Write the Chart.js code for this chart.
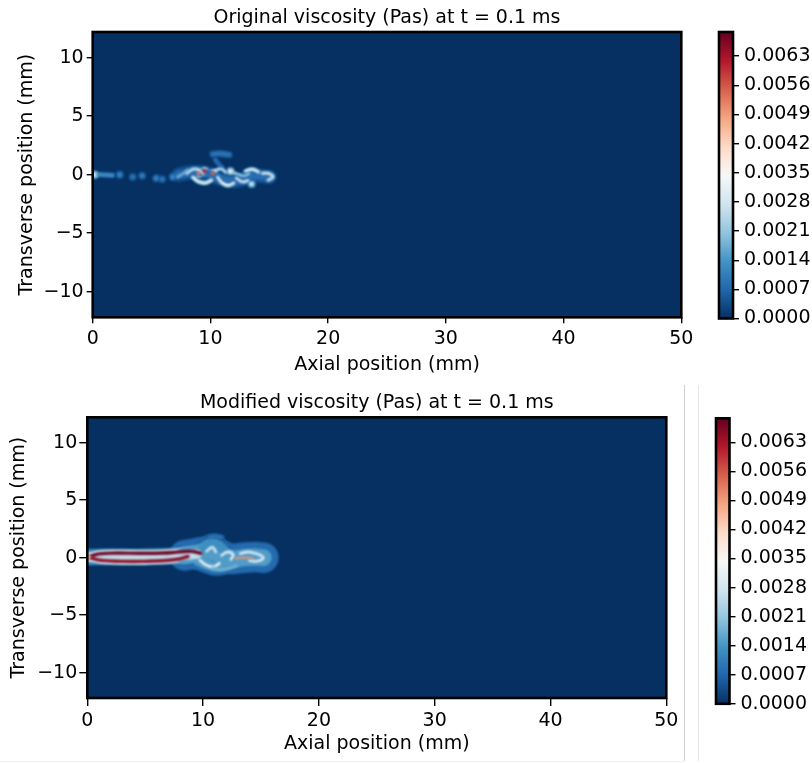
<!DOCTYPE html>
<html>
<head>
<meta charset="utf-8">
<script src="https://cdn.jsdelivr.net/npm/chart.js@4.4.1/dist/chart.umd.min.js"></script>
<style>
  body { margin: 0; background: #fff; width: 812px; height: 763px; position: relative; overflow: hidden; }
  .box { position: absolute; }
  .sep { position: absolute; }
</style>
</head>
<body>
<div class="box" style="left:0;top:0;width:700px;height:385px"><canvas id="heatTop" width="700" height="385"></canvas></div>
<div class="box" style="left:700px;top:0;width:112px;height:385px"><canvas id="cbarTop" width="112" height="385"></canvas></div>
<div class="box" style="left:0;top:385px;width:700px;height:378px"><canvas id="heatBot" width="700" height="378"></canvas></div>
<div class="box" style="left:700px;top:385px;width:112px;height:378px"><canvas id="cbarBot" width="112" height="378"></canvas></div>
<div class="sep" style="left:684px;top:385px;width:1px;height:376px;background:#cfcfcf"></div>
<div class="sep" style="left:698px;top:385px;width:1px;height:376px;background:#e4e4e4"></div>
<div class="sep" style="left:0;top:761px;width:684px;height:1px;background:#f0f0f0"></div>
<script>
// colour scale
const vMax = 0.00688;
const xTicks = [0, 10, 20, 30, 40, 50];
const yTicks = [-10, -5, 0, 5, 10];
const cbarTicks = [0, 0.0007, 0.0014, 0.0021, 0.0028, 0.0035, 0.0042, 0.0049, 0.0056, 0.0063];
const rdbuR = ['#053061', '#2166ac', '#4393c3', '#92c5de', '#d1e5f0', '#f7f7f7',
               '#fddbc7', '#f4a582', '#d6604d', '#b2182b', '#67001f'];

// original viscosity: filament paths (mm) with their peak value (Pa s)
const origPathX = [
  [7.3, 8.5, 9.8, 11.0, 12.3, 13.6, 15.0],
  [10.2, 10.8, 11.6],
  [10.4, 10.7, 11.0],
  [0.1, 0.8, 1.7],
  [8.0, 8.5, 9.0, 9.4],
  [8.5, 9.0, 9.6, 10.1],
  [10.6, 11.0, 11.5, 12.0],
  [12.2, 12.7, 13.2],
  [13.0, 13.6, 14.1],
  [14.4, 14.9, 15.3, 14.9],
  [10.4, 10.9, 11.3],
  [7.2, 7.7, 8.1],
  [11.9, 12.4, 12.9, 13.3]
];
const origPathY = [
  [0.0, 0.2, 0.1, -0.4, -0.5, -0.1, -0.2],
  [1.75, 1.8, 1.7],
  [1.3, 0.9, 0.6],
  [0.0, 0.0, -0.05],
  [0.1, 0.45, 0.4, 0.1],
  [-0.2, -0.6, -0.7, -0.45],
  [-0.2, -0.7, -0.9, -0.7],
  [-0.3, -0.6, -0.5],
  [0.3, 0.45, 0.2],
  [0.1, 0.1, -0.2, -0.45],
  [0.35, 0.5, 0.2],
  [-0.2, 0.1, 0.4],
  [0.2, 0.0, -0.1, 0.1]
];
const origPathV = [0.0008, 0.0009, 0.0008, 0.0013, 0.0030, 0.0032, 0.0034, 0.0028,
                   0.0031, 0.0030, 0.0027, 0.0020, 0.0022];
const origSpotX = [9.5, 9.0, 10.2, 0.15, 2.3, 3.4, 4.2, 5.4, 5.9, 6.8, 11.7, 13.5];
const origSpotY = [0.3, 0.1, 0.1, 0.0, 0.0, -0.2, -0.1, -0.3, -0.4, -0.2, 0.3, -0.8];
const origSpotV = [0.0060, 0.0052, 0.0055, 0.0036, 0.0012, 0.0010, 0.0011, 0.0012,
                   0.0010, 0.0013, 0.0036, 0.0030];

// modified viscosity
const modPathX = [
  [8.4, 9.5, 10.5, 11.5, 12.5, 13.5, 14.5, 15.2],
  [9.6, 10.4, 11.2, 12.0, 12.8],
  [10.0, 10.6, 11.2, 11.8],
  [10.5, 11.0, 11.6],
  [0.1, 1.5, 3.0, 5.0, 7.0, 8.5, 9.5],
  [0.25, 1.0, 2.5, 4.5, 6.5, 8.0, 9.0, 9.8],
  [0.25, 1.2, 3.0, 5.0, 6.5, 7.8, 8.7],
  [9.7, 10.2, 10.9, 11.4],
  [11.6, 12.1, 12.6, 12.4],
  [13.2, 13.9, 14.6, 15.2, 14.7, 14.0],
  [10.3, 10.8, 11.1],
  [12.8, 13.5, 14.3],
  [10.8, 11.5, 12.2, 12.9]
];
const modPathY = [
  [0.2, 0.4, 0.5, 0.2, -0.1, 0.0, 0.05, 0.0],
  [-0.3, -0.6, -0.8, -0.6, -0.3],
  [0.9, 1.3, 1.2, 0.7],
  [1.75, 1.85, 1.75],
  [0.05, 0.06, 0.06, 0.06, 0.12, 0.2, 0.3],
  [0.1, 0.33, 0.4, 0.38, 0.4, 0.5, 0.55, 0.38],
  [0.0, -0.24, -0.32, -0.32, -0.27, -0.14, 0.1],
  [-0.2, -0.6, -0.8, -0.5],
  [0.2, 0.5, 0.25, -0.15],
  [0.35, 0.5, 0.35, 0.0, -0.3, -0.25],
  [0.55, 0.9, 0.5],
  [-0.05, 0.0, -0.05],
  [-0.9, -1.05, -0.95, -0.7]
];
const modPathV = [0.0015, 0.0015, 0.0013, 0.0009, 0.0026, 0.0069, 0.0066,
                  0.0034, 0.0032, 0.0031, 0.0029, 0.0050, 0.0018];
const modSpotX = [0.15];
const modSpotY = [0.05];
const modSpotV = [0.0045];

// stroke widths (px) for the filaments
const origWidth = [8, 4, 3, 3, 2.5, 2.5, 2.5, 2.5, 2.5, 2.5, 2, 2, 2];
const modWidth = [17, 10, 9, 3.5, 9, 3.4, 3.4, 2.5, 2.5, 2.5, 2.5, 2, 2.5];

Chart.defaults.font.family = 'DejaVu Sans';
Chart.defaults.font.size = 19;
Chart.defaults.color = '#000';

function hexRgb(h) {
  return [1, 3, 5].map(i => parseInt(h.slice(i, i + 2), 16));
}

function cmap(v) {
  const t = Math.max(0, Math.min(1, v / vMax)) * (rdbuR.length - 1);
  const i = Math.min(Math.floor(t), rdbuR.length - 2);
  const f = t - i;
  const a = hexRgb(rdbuR[i]), b = hexRgb(rdbuR[i + 1]);
  const c = a.map((x, k) => Math.round(x + (b[k] - x) * f));
  return `rgb(${c[0]},${c[1]},${c[2]})`;
}

// Chart.js paints the last dataset first, so cores go in front of halos
function fieldDatasets(px, py, pv, pw, sx, sy, sv) {
  const path = k => px[k].map((x, j) => ({ x, y: py[k][j] }));
  const spots = sx.map((x, i) => ({ x, y: sy[i] }));
  const line = (k, scale, widthScale) => ({
    data: path(k), showLine: true, tension: 0.45, pointRadius: 0,
    borderColor: cmap(pv[k] * scale), borderWidth: pw[k] * widthScale,
    borderCapStyle: 'round', borderJoinStyle: 'round'
  });
  const halos = px.map((_, k) => line(k, 0.5, 1.8));
  const cores = px.map((_, k) => line(k, 1, 1));
  const spotHalo = { data: spots, pointRadius: 4, pointBorderWidth: 0,
                     pointBackgroundColor: sv.map(v => cmap(v * 0.5)) };
  const spotCore = { data: spots, pointRadius: 2, pointBorderWidth: 0,
                     pointBackgroundColor: sv.map(v => cmap(v)) };
  // drawn order: halos, spot halos, cores, spot cores
  return [spotCore, ...cores.reverse(), spotHalo, ...halos.reverse()];
}

const fieldPlugin = {
  id: 'field',
  beforeDatasetsDraw(chart) {
    const { ctx, chartArea: a } = chart;
    ctx.save();
    ctx.fillStyle = cmap(0);
    ctx.fillRect(a.left, a.top, a.right - a.left, a.bottom - a.top);
    ctx.restore();
    ctx.filter = 'blur(0.9px)';
  },
  afterDatasetsDraw(chart) {
    const { ctx, chartArea: a } = chart;
    ctx.filter = 'none';
    ctx.save();
    ctx.strokeStyle = '#000';
    ctx.lineWidth = 2.6;
    ctx.strokeRect(a.left, a.top, a.right - a.left, a.bottom - a.top);
    ctx.restore();
  }
};

const framePlugin = {
  id: 'frame',
  afterDatasetsDraw(chart) {
    const { ctx, chartArea: a } = chart;
    ctx.save();
    ctx.strokeStyle = '#000';
    ctx.lineWidth = 2.6;
    ctx.strokeRect(a.left, a.top, a.right - a.left, a.bottom - a.top);
    ctx.restore();
  }
};

const minus = v => (v < 0 ? '\u2212' + Math.abs(v) : String(v));

function heatChart(id, title, sets, g) {
  return new Chart(document.getElementById(id), {
    type: 'scatter',
    data: { datasets: sets },
    plugins: [fieldPlugin],
    options: {
      responsive: false, animation: false, devicePixelRatio: 1,
      layout: { padding: { left: 0, right: g.right, top: 0, bottom: 0 } },
      plugins: {
        legend: { display: false }, tooltip: { enabled: false },
        title: { display: true, text: title, fullSize: false, color: '#000',
                 font: { size: 19, weight: 'normal' }, padding: { top: g.titleTop, bottom: g.titleBottom } }
      },
      scales: {
        x: {
          type: 'linear', min: 0, max: 50,
          afterBuildTicks: s => { s.ticks = xTicks.map(value => ({ value })); },
          afterFit: s => { s.height = g.xHeight; },
          ticks: { padding: g.xPad, maxRotation: 0, callback: minus },
          grid: { drawOnChartArea: false, drawTicks: true, tickLength: g.tick, color: '#000', lineWidth: 1.4 },
          border: { display: false },
          title: { display: true, text: 'Axial position (mm)', padding: { top: 0, bottom: g.xTitle } }
        },
        y: {
          type: 'linear', min: -12.2, max: 12.2,
          afterBuildTicks: s => { s.ticks = yTicks.map(value => ({ value })); },
          afterFit: s => { s.width = g.yWidth; },
          ticks: { padding: g.yPad, callback: minus },
          grid: { drawOnChartArea: false, drawTicks: true, tickLength: g.tick, color: '#000', lineWidth: 1.4 },
          border: { display: false },
          title: { display: true, text: 'Transverse position (mm)', padding: { top: g.yTitle, bottom: 0 } }
        }
      }
    }
  });
}

function colorbar(id, g) {
  return new Chart(document.getElementById(id), {
    type: 'bar',
    data: {
      labels: [''],
      datasets: [{
        data: [vMax], barPercentage: 1, categoryPercentage: 1, borderWidth: 0,
        backgroundColor: c => {
          const ch = c.chart;
          if (!ch.chartArea) return rdbuR[0];
          const ys = ch.scales.y;
          const grad = ch.ctx.createLinearGradient(0, ys.getPixelForValue(0), 0, ys.getPixelForValue(vMax));
          rdbuR.forEach((col, i) => grad.addColorStop(i / (rdbuR.length - 1), col));
          return grad;
        }
      }]
    },
    plugins: [framePlugin],
    options: {
      responsive: false, animation: false, devicePixelRatio: 1,
      layout: { padding: { left: g.left, right: 0, top: g.top, bottom: g.bottom } },
      plugins: { legend: { display: false }, tooltip: { enabled: false } },
      scales: {
        x: { display: false },
        y: {
          position: 'right', min: 0, max: vMax,
          afterBuildTicks: s => { s.ticks = cbarTicks.map(value => ({ value })); },
          afterFit: s => { s.width = g.width; },
          ticks: { padding: 5, callback: v => v.toFixed(4) },
          grid: { drawOnChartArea: false, drawTicks: true, tickLength: 6, color: '#000', lineWidth: 1.4 },
          border: { display: false }
        }
      }
    }
  });
}

heatChart('heatTop', 'Original viscosity (Pas) at t = 0.1 ms',
  fieldDatasets(origPathX, origPathY, origPathV, origWidth, origSpotX, origSpotY, origSpotV),
  { right: 18.7, titleTop: 6.5, titleBottom: 2.7, xHeight: 67.7, yWidth: 92.7,
    tick: 6, xPad: 4, yPad: 3, xTitle: 9, yTitle: 16 });
colorbar('cbarTop', { left: 19, top: 32, bottom: 66.5, width: 79 });

heatChart('heatBot', 'Modified viscosity (Pas) at t = 0.1 ms',
  fieldDatasets(modPathX, modPathY, modPathV, modWidth, modSpotX, modSpotY, modSpotV),
  { right: 33.7, titleTop: 6.8, titleBottom: 2.7, xHeight: 65, yWidth: 87.3,
    tick: 8, xPad: 4, yPad: 2, xTitle: 8, yTitle: 8 });
colorbar('cbarBot', { left: 16, top: 33.3, bottom: 59.2, width: 82.5 });
</script>
</body>
</html>
